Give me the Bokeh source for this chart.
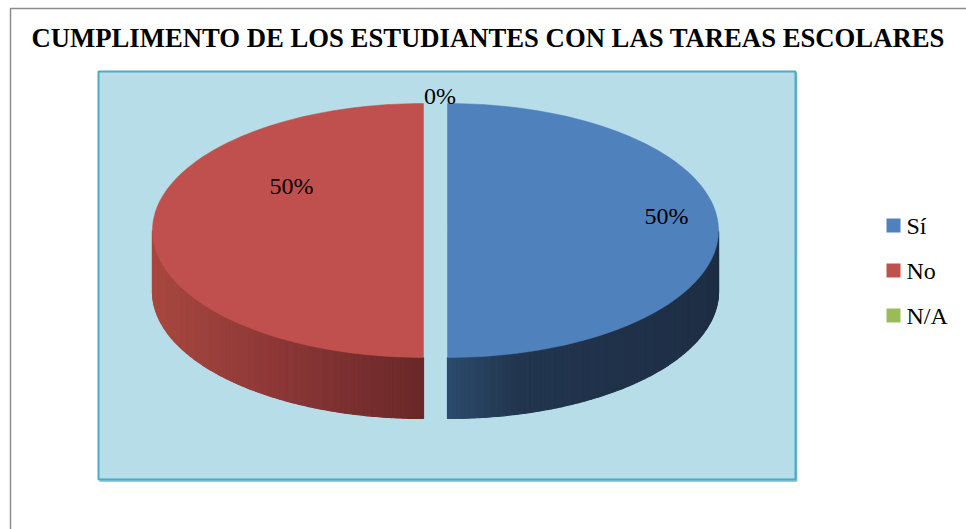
import math
from bokeh.plotting import figure
from bokeh.models import Range1d
from bokeh.core.properties import value
from bokeh.embed import file_html
from bokeh.resources import INLINE

# ---------------- data ----------------
title_text = "CUMPLIMENTO DE  LOS ESTUDIANTES CON LAS TAREAS ESCOLARES"
categories = ["Sí", "No", "N/A"]
percentages = [50, 50, 0]
label_texts = ["50%", "50%", "0%"]
colors = ["#4F81BD", "#C0504D", "#9BBB59"]

# ---------------- style ----------------
side_stops = [
    [(0.0, "#2C4B6D"), (0.25, "#22364F"), (1.0, "#1E2E45")],
    [(0.0, "#6A2828"), (0.5, "#8A3636"), (1.0, "#A8483F")],
    [(0.0, "#5E7A2E"), (1.0, "#7A9A3E")],
]
# label placement (angle deg clockwise from top, radial fraction)
label_pos = [(81.7, 0.817), (306.0, 0.602), (0.9, 1.063)]

W, H = 966, 529
CX0, CY, RX, RY, DEPTH, EXPLODE = 435.0, 230.0, 271.0, 127.0, 61.0, 12.0
FONT = "Liberation Serif"


def hex2rgb(h):
    h = h.lstrip("#")
    return tuple(int(h[i:i + 2], 16) for i in (0, 2, 4))


def interp(stops, u):
    u = max(0.0, min(1.0, u))
    for (u0, c0), (u1, c1) in zip(stops[:-1], stops[1:]):
        if u0 <= u <= u1:
            f = 0 if u1 == u0 else (u - u0) / (u1 - u0)
            a, b = hex2rgb(c0), hex2rgb(c1)
            r = [round(a[k] + (b[k] - a[k]) * f) for k in range(3)]
            return "#%02x%02x%02x" % tuple(r)
    return stops[-1][1]


p = figure(width=W, height=H, output_backend="svg", toolbar_location=None,
           x_range=Range1d(0, W), y_range=Range1d(H, 0),
           min_border=0, outline_line_color=None,
           background_fill_color="white", border_fill_color="white")
p.axis.visible = False
p.grid.visible = False

# outer frame (left and top lines)
p.line(x=[10, 10, W], y=[H, 8, 8], line_color="#8C8C8C", line_width=1.5)

# title
p.text(x=[491], y=[37], text=[title_text], text_font=value(FONT),
       text_font_style="bold", text_font_size="26.7px", text_align="center",
       text_baseline="middle", text_color="black")

# plot area
p.quad(left=[98], right=[795], top=[71], bottom=[479], fill_color="#B7DEE8",
       line_color="#4BACC6", line_width=2)
p.line(x=[99, 796, 796], y=[480.5, 480.5, 72], line_color="#4BACC6", line_width=1.5, line_alpha=0.8)

# ---------------- 3D pie ----------------
total = float(sum(percentages))
side_xs, side_ys, side_cs = [], [], []
top_xs, top_ys, top_cs = [], [], []
lab_x, lab_y, lab_t = [], [], []
start = 0.0
for i, v in enumerate(percentages):
    sweep = 360.0 * v / total
    t0, t1 = start, start + sweep
    mid = math.radians((t0 + t1) / 2.0)
    cx = CX0 + (EXPLODE * math.sin(mid) if v > 0 else 0.0)
    cy = CY - (EXPLODE * 0.47 * math.cos(mid) if v > 0 else 0.0)
    if v > 0:
        # side wall (front half only: 90..270 deg)
        f0, f1 = max(t0, 90.0), min(t1, 270.0)
        if f1 > f0:
            n = 160
            for k in range(n):
                a = math.radians(f0 + (f1 - f0) * k / n)
                b = math.radians(f0 + (f1 - f0) * (k + 1) / n)
                xa, ya = cx + RX * math.sin(a), cy - RY * math.cos(a)
                xb, yb = cx + RX * math.sin(b), cy - RY * math.cos(b)
                side_xs.append([xa, xb, xb, xa])
                side_ys.append([ya, yb, yb + DEPTH, ya + DEPTH])
                u = abs(math.sin((a + b) / 2))
                side_cs.append(interp(side_stops[i], u))
        # top face
        n = 120
        xs, ys = [cx], [cy]
        for k in range(n + 1):
            a = math.radians(t0 + sweep * k / n)
            xs.append(cx + RX * math.sin(a))
            ys.append(cy - RY * math.cos(a))
        top_xs.append(xs)
        top_ys.append(ys)
        top_cs.append(colors[i])
    ang, frac = label_pos[i]
    ar = math.radians(ang)
    lab_x.append(cx + frac * RX * math.sin(ar))
    lab_y.append(cy - frac * RY * math.cos(ar))
    lab_t.append(label_texts[i])
    start = t1

p.patches(xs=side_xs, ys=side_ys, fill_color=side_cs, line_color=side_cs, line_width=1.2)
p.patches(xs=top_xs, ys=top_ys, fill_color=top_cs, line_color=top_cs, line_width=0.5)

p.text(x=lab_x, y=lab_y, text=lab_t, text_font=value(FONT), text_font_size="24px",
       text_align="center", text_baseline="middle", text_color="black")

# ---------------- legend (drawn manually) ----------------
LEG_X, LEG_Y0, LEG_STEP, SQ = 886, 225, 45, 14
leg_y = [LEG_Y0 + k * LEG_STEP for k in range(len(categories))]
p.quad(left=[LEG_X] * len(categories), right=[LEG_X + SQ] * len(categories),
       top=[y - SQ / 2 for y in leg_y], bottom=[y + SQ / 2 for y in leg_y],
       fill_color=colors, line_color=None)
p.text(x=[LEG_X + SQ + 6] * len(categories), y=leg_y, text=categories,
       text_font=value(FONT), text_font_size="24px", text_align="left",
       text_baseline="middle", text_color="black")

open("out.html", "w").write(file_html(p, INLINE))
